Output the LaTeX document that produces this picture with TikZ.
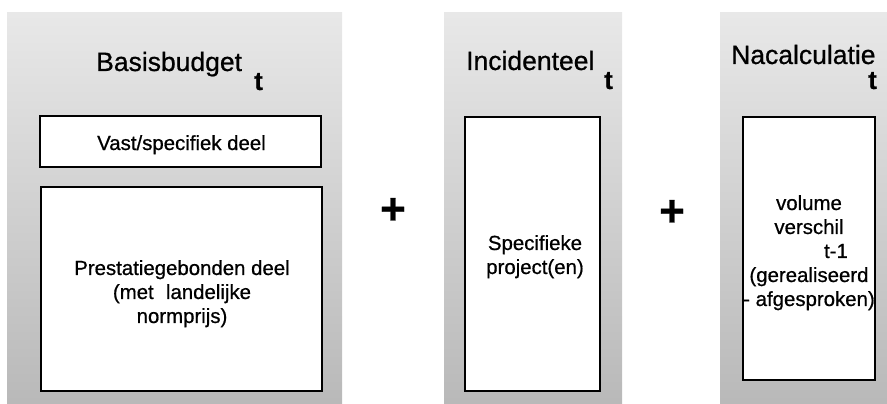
\documentclass[tikz,border=0pt]{standalone}
\usepackage{fontspec}
\setmainfont{Liberation Sans}[FakeBold=0.7]
\begin{document}
\begin{tikzpicture}[x=1pt,y=-1pt,
  panel/.style={draw=none, top color=gray!18, bottom color=gray!55},
  box/.style={draw=black, line width=2.3pt, fill=white, inner sep=0pt},
  title/.style={font=\fontsize{26.5}{30}\selectfont, inner sep=0pt, anchor=base west},
  sub/.style={font=\fontsize{26}{28}\bfseries\selectfont, inner sep=0pt, anchor=base west},
  body/.style={font=\fontsize{20.4}{24}\selectfont, align=center, inner sep=0pt},
  plus/.style={font=\fontsize{44}{44}\bfseries\selectfont, inner sep=0pt}]
\useasboundingbox (0,0) rectangle (887,404);
% panels
\shade[panel] (7,13) rectangle (342,403);
\shade[panel] (444,13) rectangle (622,403);
\shade[panel] (720,13) rectangle (887,403);
% titles
\node[title] (t1) at (96,71) {Basisbudget};
\node[sub] (s1) at (254,90) {t};
\node[title] (t2) at (466,70) {Incidenteel};
\node[sub] (s2) at (604,89) {t};
\node[title] (t3) at (731,64) {Nacalculatie};
\node[sub] (s3) at (868,89) {t};
% boxes
\node[box, minimum width=281, minimum height=51] (vast) at (180.5,141.5) {};
\node[box, minimum width=281, minimum height=204] (prest) at (181.5,289) {};
\node[box, minimum width=135, minimum height=274] (inc) at (532.5,254) {};
\node[box, minimum width=132, minimum height=263] (nac) at (809,248.5) {};
% box texts
\node[body, anchor=base] (vastt) at (181.5,150) {Vast/specifiek deel};
\node[body, anchor=north] (prestt) at (182,260) {Prestatiegebonden deel\\(met\hspace{0.6em}landelijke\\normprijs)};
\node[body, anchor=north] (inct) at (535,235) {Specifieke\\project(en)};
\node[body, anchor=north] (nact) at (809,195) {volume\\verschil\\\hspace*{54pt}t-1\\(gerealiseerd\\- afgesproken)};
% plus signs
\node[plus] (p1) at (393,211) {+};
\node[plus] (p2) at (672,213) {+};
\end{tikzpicture}
\end{document}
